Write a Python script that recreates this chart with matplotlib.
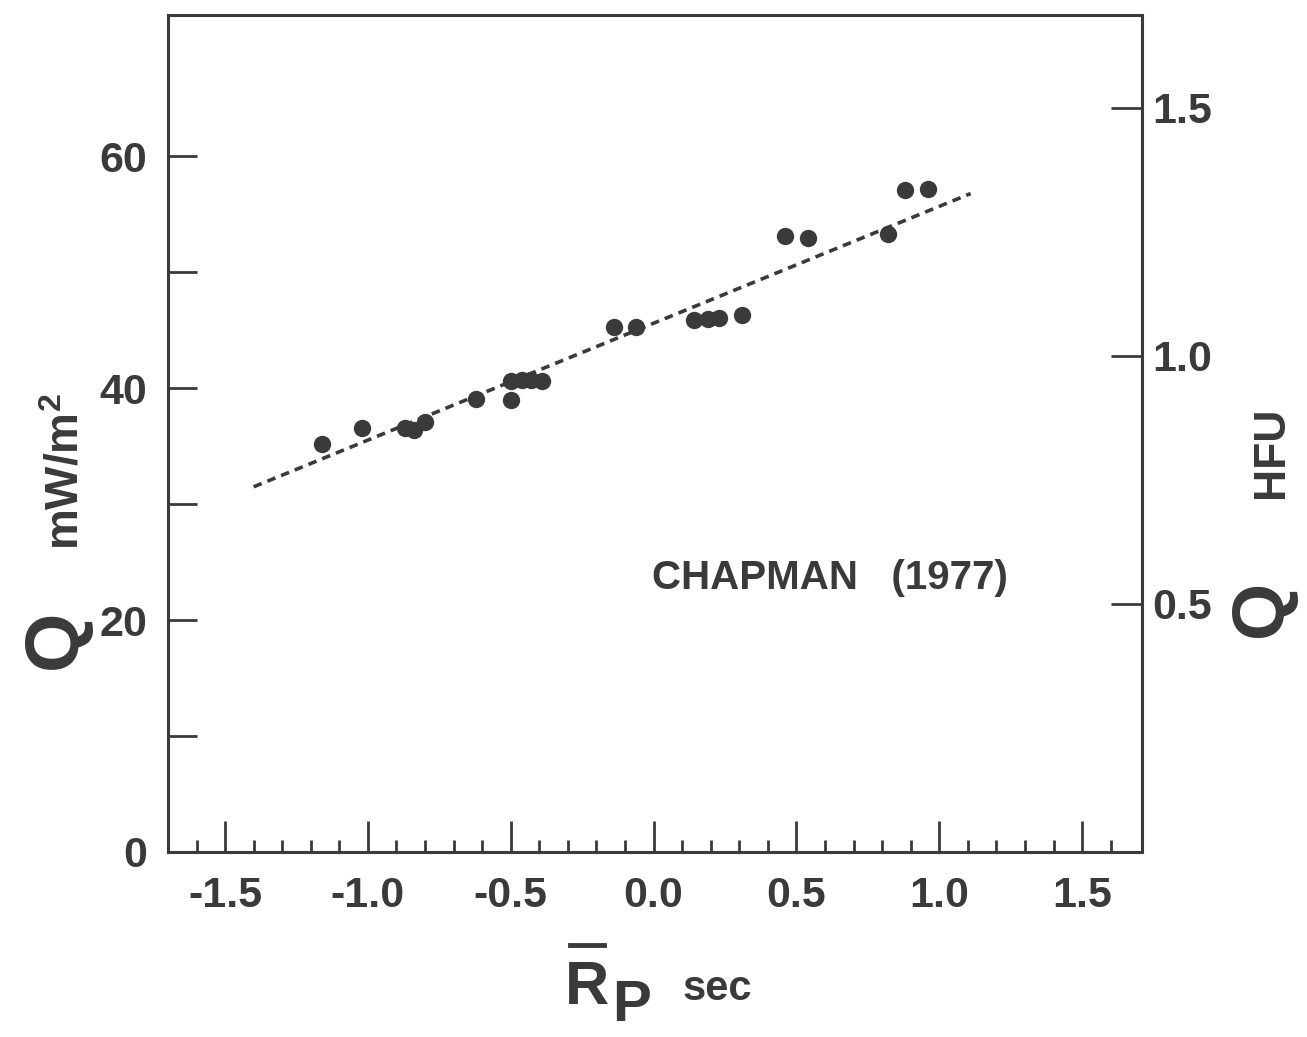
import numpy as np
import matplotlib
matplotlib.use("Agg")
import matplotlib.pyplot as plt
from matplotlib.lines import Line2D

# values
rp_sec = [-1.16, -1.02, -0.87, -0.84, -0.80, -0.62, -0.50, -0.50, -0.46, -0.43,
          -0.39, -0.14, -0.06, 0.14, 0.19, 0.23, 0.31, 0.46, 0.54, 0.82, 0.88, 0.96]
q_mw = [35.2, 36.6, 36.6, 36.4, 37.1, 39.1, 39.0, 40.6, 40.7, 40.7,
        40.6, 45.3, 45.3, 45.9, 46.0, 46.1, 46.3, 53.1, 53.0, 53.3, 57.1, 57.2]
fit_x = [-1.40, 1.11]
fit_q = [31.5, 56.8]

x_ticks = [-1.5, -1.0, -0.5, 0.0, 0.5, 1.0, 1.5]
x_labels = ['-1.5', '-1.0', '-0.5', '0.0', '0.5', '1.0', '1.5']
q_ticks = [0, 20, 40, 60]
hfu_ticks = [0.5, 1.0, 1.5]
hfu_labels = ['0.5', '1.0', '1.5']
mw_per_hfu = 42.8

ink = '#3a3a3a'
plt.rcParams['font.family'] = ['Liberation Sans', 'DejaVu Sans']
plt.rcParams['font.weight'] = 'bold'
plt.rcParams['mathtext.fontset'] = 'custom'
plt.rcParams['mathtext.rm'] = 'Liberation Sans:bold'
plt.rcParams['mathtext.bf'] = 'Liberation Sans:bold'

fig = plt.figure(figsize=(13.07, 10.37), dpi=100)
ax = fig.add_axes([0.1285, 0.1784, 0.7453, 0.8071])

ax.plot(fit_x, fit_q, linestyle=(0, (2.4, 1.7)), color=ink, lw=2.6)
ax.plot(rp_sec, q_mw, 'o', color=ink, markersize=12.5, markeredgewidth=0)

ax.set_xlim(-1.70, 1.71)
ax.set_ylim(0, 72.2)
ax.set_xticks(x_ticks)
ax.set_xticklabels(x_labels)
ax.set_xticks(np.arange(-1.6, 1.65, 0.1), minor=True)
ax.set_yticks(q_ticks)
ax.set_yticks([10, 30, 50], minor=True)

for s in ax.spines.values():
    s.set_linewidth(2.2)
    s.set_color(ink)

ax.tick_params(axis='x', which='major', direction='in', length=22, width=2,
               color=ink, labelsize=31, labelcolor=ink, pad=17, top=False)
ax.tick_params(axis='x', which='minor', direction='in', length=9, width=2,
               color=ink, top=False)
ax.tick_params(axis='y', which='both', direction='in', length=21, width=2,
               color=ink, labelsize=31, labelcolor=ink, pad=15, right=False)

ax2 = ax.twinx()
ax2.set_ylim(0, 72.2 / mw_per_hfu)
ax2.set_yticks(hfu_ticks)
ax2.set_yticklabels(hfu_labels)
ax2.tick_params(axis='y', direction='in', length=22, width=2, color=ink,
                labelsize=31, labelcolor=ink, pad=7)
for s in ax2.spines.values():
    s.set_visible(False)

ax.text(0.68, 0.327, 'CHAPMAN   (1977)', transform=ax.transAxes, fontsize=29,
        color=ink, ha='center', va='center')

# axis titles
fig.text(0.043, 0.384, 'Q', fontsize=55, color=ink, rotation=90, ha='center', va='center')
fig.text(0.051, 0.545, 'mW/m$^{2}$', fontsize=33, color=ink, rotation=90, ha='center', va='center')
fig.text(0.9655, 0.413, 'Q', fontsize=53, color=ink, rotation=90, ha='center', va='center')
fig.text(0.973, 0.564, 'HFU', fontsize=32, color=ink, rotation=90, ha='center', va='center')

fig.text(0.449, 0.047, 'R', fontsize=44, color=ink, ha='center', va='center')
fig.add_artist(Line2D([0.436, 0.462], [0.089, 0.089], transform=fig.transFigure,
                      color=ink, lw=3.5))
fig.text(0.483, 0.030, 'P', fontsize=42, color=ink, ha='center', va='center')
fig.text(0.549, 0.046, 'sec', fontsize=30, color=ink, ha='center', va='center')

fig.savefig('out.png', dpi=100)
